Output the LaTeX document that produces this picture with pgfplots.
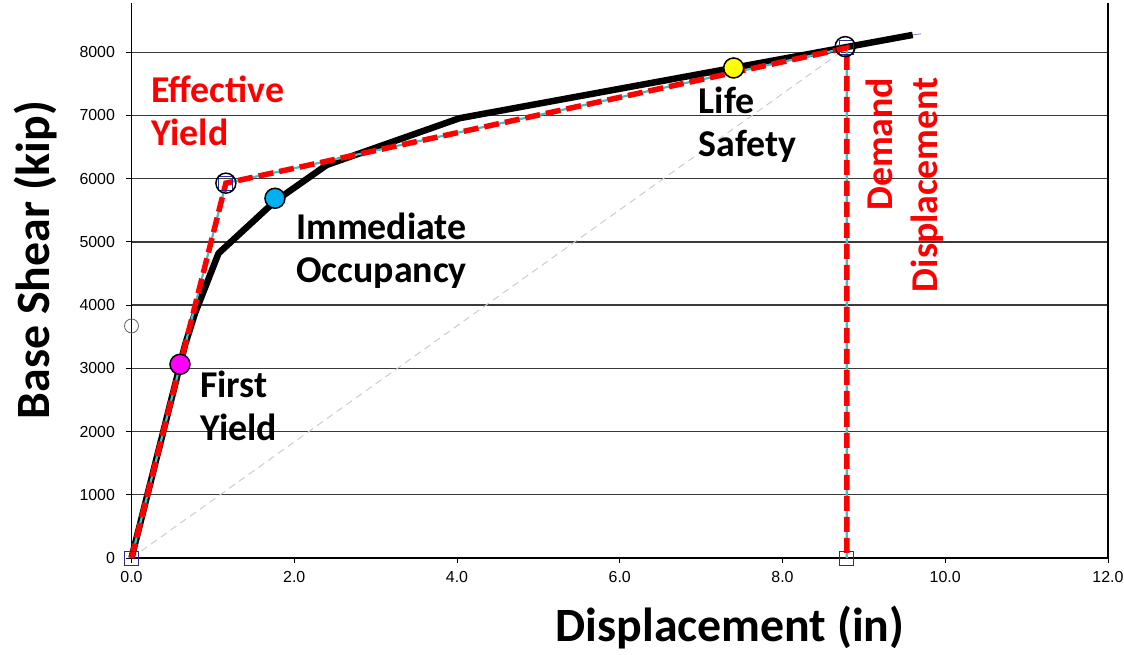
\documentclass[border=0pt]{standalone}
\usepackage{fontspec}
\setmainfont{Carlito}
\newfontfamily\arialfont{Liberation Sans}
\usepackage{pgfplots}
\pgfplotsset{compat=1.18}
\definecolor{gridc}{HTML}{3A3A3A}
\definecolor{ioblue}{HTML}{00B0F0}
\definecolor{cyanl}{HTML}{40C0C0}
\definecolor{sqblue}{HTML}{2A2A9A}
\definecolor{mag}{HTML}{FF00FF}
\definecolor{yel}{HTML}{FFFF00}
\definecolor{rd}{HTML}{FF0000}
\begin{document}
\begin{tikzpicture}
\begin{axis}[
 scale only axis, width=976.5bp, height=555bp,
 xmin=0, xmax=12, ymin=0, ymax=8780,
 axis x line*=bottom, axis y line*=left,
 axis line style={black, line width=1.2bp},
 xtick={0,2,...,12}, xticklabels={0.0,2.0,4.0,6.0,8.0,10.0,12.0},
 ytick={0,1000,...,8000}, yticklabels={0,1000,2000,3000,4000,5000,6000,7000,8000},
 ymajorgrids, major grid style={gridc, line width=1.3bp},
 tick style={black, line width=1bp},
 tick align=outside, major tick length=5bp,
 ticklabel style={font=\arialfont\fontsize{16}{18}\selectfont},
 xticklabel style={yshift=-5bp},
 yticklabel style={xshift=-8bp},
 xlabel={Displacement (in)}, ylabel={Base Shear (kip)},
 label style={font=\bfseries\fontsize{48}{52}\selectfont},
 xlabel style={at={(rel axis cs:0.613,-0.126)}, anchor=center},
 ylabel style={at={(rel axis cs:-0.0988,0.537)}, anchor=center},
 clip=false,
]
\coordinate (O) at (rel axis cs:0,0);
\draw[black, line width=1.2bp] (rel axis cs:1,0) -- (rel axis cs:1,1);
% secant
\addplot[gray!40, dash pattern=on 7bp off 5bp, line width=1bp] coordinates {(0,0) (8.79,8070)};
% thin blue curve
\addplot[sqblue!60, line width=0.8bp] coordinates {(0,0) (0.66,3380) (0.78,3870) (1.07,4821) (1.76,5640) (2.40,6218) (4.03,6957) (9.6,8275) (9.7,8292)};
% pushover curve
\addplot[black, line width=6.5bp, line join=round] coordinates {(0,0) (0.66,3380) (0.78,3870) (1.07,4821) (1.76,5640) (2.40,6218) (4.03,6957) (9.6,8275)};
% bilinear (cyan under red dashed)
\addplot[cyanl, line width=2.2bp] coordinates {(0,0) (1.16,5930) (8.79,8070) (8.79,0)};
\addplot[rd, line width=5.5bp, dash pattern=on 15bp off 6bp] coordinates {(0,0) (1.16,5930) (8.79,8070) (8.79,0)};
% squares
\addplot[only marks, mark=square, mark size=7bp, draw=sqblue, line width=1bp] coordinates {(0,0) (8.79,0) (1.16,5930) (8.79,8070)};
% open circles
\addplot[only marks, mark=o, mark size=10bp, draw=black, line width=1.5bp] coordinates {(1.16,5930) (8.77,8090)};
\addplot[only marks, mark=o, mark size=7bp, draw=gray!80!black, line width=0.8bp] coordinates {(0,3671)};
% performance points
\addplot[only marks, mark=*, mark size=10bp, fill=mag, draw=black, line width=1.5bp] coordinates {(0.596,3064)};
\addplot[only marks, mark=*, mark size=10bp, fill=ioblue, draw=black, line width=1.5bp] coordinates {(1.763,5691)};
\addplot[only marks, mark=*, mark size=10bp, fill=yel, draw=black, line width=1.5bp] coordinates {(7.40,7752)};
% annotations
\node[anchor=west, align=left, text=rd, font=\bfseries\fontsize{38}{43}\selectfont] at (axis cs:0.20,7073) {Effective\\Yield};
\node[anchor=west, align=left, font=\bfseries\fontsize{38}{43}\selectfont] at (axis cs:1.98,4858) {Immediate\\Occupancy};
\node[anchor=west, align=left, font=\bfseries\fontsize{38}{43}\selectfont] at (axis cs:0.80,2405) {First\\Yield};
\node[anchor=west, align=left, font=\bfseries\fontsize{38}{43}\selectfont] at (axis cs:6.93,6851) {Life\\Safety};
\node[rotate=90, align=right, text=rd, font=\bfseries\fontsize{38}{45}\selectfont] at (axis cs:9.50,5902) {Demand\\Displacement};
\end{axis}
\pgfresetboundingbox
\path (O) ++(-131.5bp,-97bp) rectangle ++(1124bp,655bp);
\end{tikzpicture}
\end{document}
